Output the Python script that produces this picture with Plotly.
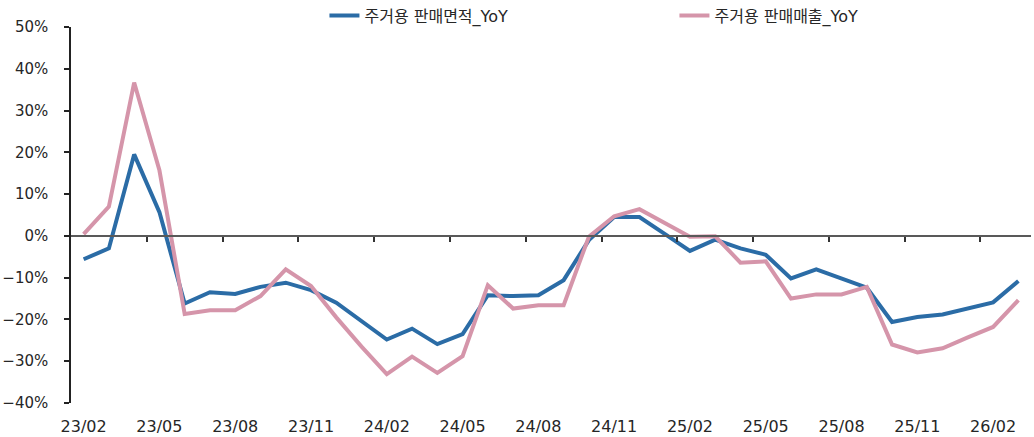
import plotly.graph_objects as go

months = ["23/02", "23/03", "23/04", "23/05", "23/06", "23/07", "23/08", "23/09", "23/10", "23/11", "23/12",
          "24/01", "24/02", "24/03", "24/04", "24/05", "24/06", "24/07", "24/08", "24/09", "24/10", "24/11", "24/12",
          "25/01", "25/02", "25/03", "25/04", "25/05", "25/06", "25/07", "25/08", "25/09", "25/10", "25/11", "25/12",
          "26/01", "26/02", "26/03"]

area_yoy = [-5.6, -3.0, 19.5, 5.7, -16.2, -13.5, -13.9, -12.2, -11.2, -13.0, -16.0,
            -20.5, -24.8, -22.2, -25.9, -23.5, -14.2, -14.4, -14.2, -10.6, -1.0, 4.5, 4.5,
            0.5, -3.6, -0.9, -3.0, -4.5, -10.2, -8.0, -10.2, -12.4, -20.6, -19.4, -18.8,
            -17.4, -15.9, -10.8]

sales_yoy = [0.4, 7.0, 36.7, 15.7, -18.7, -17.8, -17.8, -14.4, -8.0, -12.0, -19.5,
             -26.5, -33.1, -28.9, -32.8, -28.8, -11.8, -17.4, -16.6, -16.6, -0.2, 4.7, 6.4,
             3.0, -0.2, -0.1, -6.4, -6.1, -15.0, -14.0, -14.0, -12.2, -26.0, -27.9, -26.9,
             -24.3, -21.8, -15.4]

series_names = ["주거용 판매면적_YoY", "주거용 판매매출_YoY"]
y_ticks = [-40, -30, -20, -10, 0, 10, 20, 30, 40, 50]

BLUE = "#2B6CA6"
PINK = "#D595AA"
FONT = "DejaVu Sans, Noto Sans CJK KR"
TXT = "#262626"

x_idx = list(range(len(months)))
label_idx = x_idx[::3]

fig = go.Figure()
fig.add_trace(go.Scatter(x=x_idx, y=area_yoy, mode="lines", name=series_names[0],
                         line=dict(color=BLUE, width=4)))
fig.add_trace(go.Scatter(x=x_idx, y=sales_yoy, mode="lines", name=series_names[1],
                         line=dict(color=PINK, width=4)))
# dummy trace on xaxis2 to activate zero-line axis
fig.add_trace(go.Scatter(x=[None], y=[None], xaxis="x2", showlegend=False, hoverinfo="skip"))

xr = [-0.5, len(months) - 0.5]
fig.update_layout(
    width=1034, height=437,
    margin=dict(l=71, r=3, t=27, b=34, autoexpand=False),
    paper_bgcolor="white", plot_bgcolor="white",
    font=dict(family=FONT, size=16, color=TXT),
    showlegend=True,
    legend=dict(orientation="h", x=0.264, xanchor="left", y=1.03, yanchor="middle",
                font=dict(family=FONT, size=16, color=TXT), entrywidth=305,
                bgcolor="rgba(0,0,0,0)"),
    xaxis=dict(range=xr, tickmode="array", tickvals=label_idx,
               ticktext=[months[i] for i in label_idx],
               showline=False, showgrid=False, zeroline=False, automargin=False,
               ticks="outside", ticklen=9, tickcolor="rgba(0,0,0,0)",
               tickfont=dict(family=FONT, size=16, color=TXT)),
    xaxis2=dict(range=xr, overlaying="x", anchor="free", position=4 / 9, side="bottom",
                tickmode="array", tickvals=[i + 2.5 for i in label_idx[:-1]],
                showticklabels=False, showline=True, linecolor="#595959", linewidth=2,
                ticks="outside", ticklen=5, tickcolor="#333333", tickwidth=1.5,
                showgrid=False, zeroline=False, automargin=False),
    yaxis=dict(range=[-40, 50], tickmode="array", tickvals=y_ticks,
               ticktext=[("−" if v < 0 else "") + f"{abs(v)}%" for v in y_ticks],
               showline=True, linecolor="#222222", linewidth=1.5,
               ticks="outside", ticklen=5, tickcolor="#222222", tickwidth=1.5,
               ticklabelstandoff=13, automargin=False,
               showgrid=False, zeroline=False,
               tickfont=dict(family=FONT, size=15, color=TXT)),
)

fig.write_html("out.html", config={"displayModeBar": False},
               post_script="document.body.style.margin='0';document.body.style.overflow='hidden';")
